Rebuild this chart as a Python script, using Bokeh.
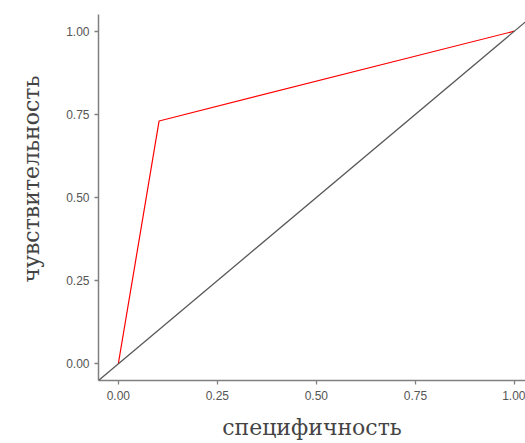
from bokeh.plotting import figure
from bokeh.embed import file_html
from bokeh.resources import INLINE
from bokeh.models import Range1d, FixedTicker, Slope, Title

# ROC curve points
fpr = [0.0, 0.103, 1.0]
tpr = [0.0, 0.73, 1.0]
ticks = [0.0, 0.25, 0.5, 0.75, 1.0]
tick_labels = {0.0: "0.00", 0.25: "0.25", 0.5: "0.50", 0.75: "0.75", 1.0: "1.00"}
x_title = "специфичность"
y_title = "чувствительность"

p = figure(width=525, height=443, output_backend="svg", toolbar_location=None,
           x_range=Range1d(-0.05, 1.028), y_range=Range1d(-0.05, 1.05),
           min_border_left=96, min_border_right=0, min_border_top=14, min_border_bottom=63)
p.outline_line_color = None
p.grid.visible = False
p.background_fill_color = "white"
p.border_fill_color = "white"

p.add_layout(Slope(gradient=1, y_intercept=0, line_color="#595959", line_width=1.3))
p.line(fpr, tpr, line_color="#ff0000", line_width=1.2)

for ax in (p.xaxis[0], p.yaxis[0]):
    ax.ticker = FixedTicker(ticks=ticks)
    ax.major_label_overrides = {k: v for k, v in tick_labels.items()}
    ax.minor_tick_line_color = None
    ax.major_tick_in = 0
    ax.major_tick_out = 4
    ax.major_tick_line_color = "#808080"
    ax.major_tick_line_width = 1.3
    ax.axis_line_color = "#808080"
    ax.axis_line_width = 1.5
    ax.major_label_text_font = "Liberation Sans"
    ax.major_label_text_font_size = "12px"
    ax.major_label_text_color = "#555555"
    ax.axis_label_text_font = "DejaVu Serif"
    ax.axis_label_text_font_style = "normal"
    ax.axis_label_text_font_size = "22px"
    ax.axis_label_text_color = "#444444"

p.xaxis.axis_label = x_title
p.xaxis.major_label_standoff = 6
p.yaxis.major_label_standoff = 5
p.xaxis.axis_label_standoff = 12

yt = Title(text=y_title, align="left", offset=98, standoff=36, vertical_align="top",
           text_font="DejaVu Serif", text_font_style="normal",
           text_font_size="22px", text_color="#444444")
p.add_layout(yt, "left")

open("out.html", "w").write(file_html(p, INLINE))
